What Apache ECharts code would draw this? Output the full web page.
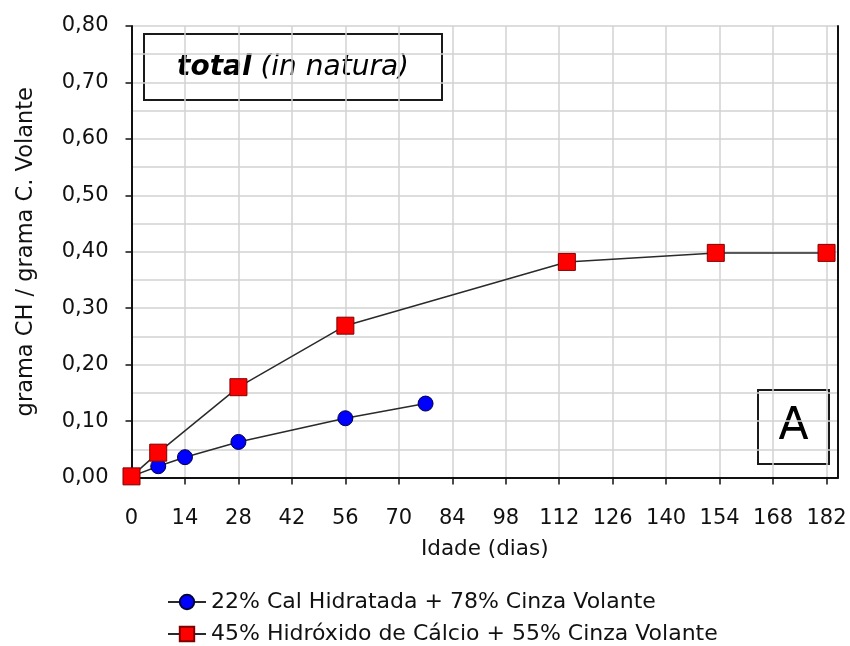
<!DOCTYPE html>
<html>
<head>
<meta charset="utf-8">
<script src="https://cdn.jsdelivr.net/npm/echarts@6/dist/echarts.min.js"></script>
<style>
html,body{margin:0;padding:0;background:#fff;}
#chart{width:850px;height:646px;}
</style>
</head>
<body>
<div id="chart"></div>
<script>
// ---- data ----
const seriesNames = [
  '22% Cal Hidratada + 78% Cinza Volante',
  '45% Hidróxido de Cálcio + 55% Cinza Volante'
];
const calDays = [0, 7, 14, 28, 56, 77];
const calValues = [0.002, 0.020, 0.036, 0.063, 0.105, 0.131];
const hidroDays = [0, 7, 28, 56, 114, 153, 182];
const hidroValues = [0.002, 0.044, 0.160, 0.269, 0.382, 0.398, 0.398];
const xTicks = [0, 14, 28, 42, 56, 70, 84, 98, 112, 126, 140, 154, 168, 182];
const xAxisTitle = 'Idade (dias)';
const yAxisTitle = 'grama CH / grama C. Volante';
const panelTitleBold = 'total';
const panelTitleItalic = ' (in natura)';
const panelLetter = 'A';

const FONT = 'DejaVu Sans';
const TXT = '#111';
const pair = (xs, ys) => xs.map((x, i) => [x, ys[i]]);

const legendCommon = {
  orient: 'vertical', left: 162, padding: 5,
  itemWidth: 38, itemHeight: 18,
  textStyle: {fontFamily: FONT, fontSize: 22, color: TXT}
};

const chart = echarts.init(document.getElementById('chart'), null, {renderer: 'canvas'});
const option = {
  animation: false,
  backgroundColor: '#ffffff',
  textStyle: {fontFamily: FONT},
  grid: {left: 131.5, right: 12, top: 26, bottom: 168.5, containLabel: false},
  xAxis: {
    type: 'value', min: 0, max: 185, interval: 14,
    name: xAxisTitle, nameLocation: 'middle', nameGap: 61,
    nameTextStyle: {fontFamily: FONT, fontSize: 21.5, color: TXT},
    axisLine: {show: true, lineStyle: {color: '#111', width: 2}},
    axisTick: {show: true, inside: false, length: 7, customValues: xTicks, lineStyle: {color: '#111', width: 1.5}},
    axisLabel: {margin: 31, customValues: xTicks, fontFamily: FONT, fontSize: 21, color: TXT,
      formatter: v => String(v)},
    splitLine: {show: true, lineStyle: {color: '#d2d2d2', width: 1.5}}
  },
  yAxis: [{
    type: 'value', min: 0, max: 0.8, interval: 0.1, position: 'left',
    name: yAxisTitle, nameLocation: 'middle', nameGap: 94, nameRotate: 90,
    nameTextStyle: {fontFamily: FONT, fontSize: 22.5, color: TXT},
    axisLine: {show: true, lineStyle: {color: '#111', width: 2}},
    axisTick: {show: true, inside: false, length: 6, lineStyle: {color: '#111', width: 1.5}},
    axisLabel: {margin: 23, fontFamily: FONT, fontSize: 21, color: TXT,
      formatter: v => v.toFixed(2).replace('.', ',')},
    splitLine: {show: true, lineStyle: {color: '#d2d2d2', width: 1.5}},
    minorTick: {show: false, splitNumber: 2},
    minorSplitLine: {show: true, lineStyle: {color: '#d2d2d2', width: 1.5}}
  }, {
    type: 'value', min: 0, max: 0.8, interval: 0.1, position: 'right',
    axisLine: {show: true, lineStyle: {color: '#111', width: 2}},
    axisTick: {show: false}, axisLabel: {show: false}, splitLine: {show: false}
  }],
  legend: [
    Object.assign({}, legendCommon, {top: 586, data: [seriesNames[0]]}),
    Object.assign({}, legendCommon, {top: 618, data: [seriesNames[1]]})
  ],
  series: [{
    name: seriesNames[0], type: 'line', data: pair(calDays, calValues),
    symbol: 'circle', symbolSize: 15,
    lineStyle: {color: '#2a2a2a', width: 1.5},
    itemStyle: {color: '#0000ff', borderColor: '#000040', borderWidth: 1}
  }, {
    name: seriesNames[1], type: 'line', data: pair(hidroDays, hidroValues),
    symbol: 'rect', symbolSize: 17,
    lineStyle: {color: '#2a2a2a', width: 1.5},
    itemStyle: {color: '#ff0000', borderColor: '#800000', borderWidth: 1}
  }],
  graphic: [{
    type: 'group', left: 143, top: 33,
    children: [{
      type: 'rect', shape: {x: 0, y: 0, width: 298, height: 66},
      style: {fill: '#fff', stroke: '#1a1a1a', lineWidth: 2}
    }, {
      type: 'text', x: 149, y: 34,
      style: {
        text: '{b|' + panelTitleBold + '}{i|' + panelTitleItalic + '}',
        align: 'center', verticalAlign: 'middle',
        rich: {
          b: {fontFamily: FONT, fontSize: 28, fontWeight: 'bold', fontStyle: 'italic', fill: '#000'},
          i: {fontFamily: FONT, fontSize: 28, fontStyle: 'italic', fill: '#000'}
        }
      }
    }]
  }, {
    type: 'group', left: 757, top: 389,
    children: [{
      type: 'rect', shape: {x: 0, y: 0, width: 71, height: 74},
      style: {fill: '#fff', stroke: '#1a1a1a', lineWidth: 2}
    }, {
      type: 'text', x: 35.5, y: 38,
      style: {text: panelLetter, align: 'center', verticalAlign: 'middle',
        fontFamily: FONT, fontSize: 44, fill: '#000'}
    }]
  }]
};
chart.setOption(option);
</script>
</body>
</html>
